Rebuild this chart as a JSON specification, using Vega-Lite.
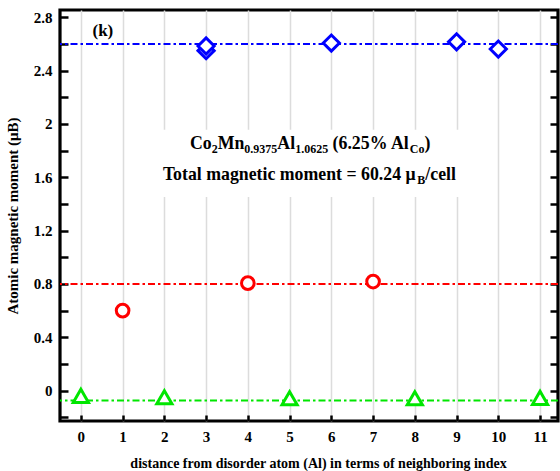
{
  "$schema": "https://vega.github.io/schema/vega-lite/v6.json",
  "width": 498,
  "height": 411,
  "autosize": {"type": "none"},
  "padding": {"left": 60, "top": 10, "right": 2, "bottom": 50},
  "background": "white",
  "config": {
    "view": {"stroke": "black", "strokeWidth": 3.2},
    "font": "Liberation Serif",
    "axis": {
      "labelFont": "Liberation Serif",
      "labelFontWeight": "bold",
      "labelColor": "black",
      "titleFont": "Liberation Serif",
      "titleFontWeight": "bold",
      "titleColor": "black",
      "tickColor": "black",
      "domain": false,
      "labelFlush": false,
      "labelOverlap": false
    }
  },
  "datasets": {
    "moments": [
      {"atom": "Al", "index": 0, "moment": -0.04},
      {"atom": "Co", "index": 1, "moment": 0.6},
      {"atom": "Al", "index": 2, "moment": -0.05},
      {"atom": "Mn", "index": 3, "moment": 2.55},
      {"atom": "Mn", "index": 3, "moment": 2.585},
      {"atom": "Co", "index": 4, "moment": 0.806},
      {"atom": "Al", "index": 5, "moment": -0.057},
      {"atom": "Mn", "index": 6, "moment": 2.607},
      {"atom": "Co", "index": 7, "moment": 0.818},
      {"atom": "Al", "index": 8, "moment": -0.057},
      {"atom": "Mn", "index": 9, "moment": 2.616},
      {"atom": "Mn", "index": 10, "moment": 2.562},
      {"atom": "Al", "index": 11, "moment": -0.055}
    ],
    "averages": [
      {"atom": "Mn", "moment": 2.6},
      {"atom": "Co", "moment": 0.8},
      {"atom": "Al", "moment": -0.075}
    ]
  },
  "layer": [
    {
      "layer": [
        {
          "data": {"values": [{}]},
          "mark": {"type": "rect", "fill": "white", "stroke": null},
          "encoding": {
            "x": {"datum": 1.75, "type": "quantitative",
              "scale": {"domain": [-0.5, 11.43], "nice": false, "zero": false},
              "axis": {
                "orient": "bottom",
                "values": [0, 1, 2, 3, 4, 5, 6, 7, 8, 9, 10, 11],
                "tickCount": 20,
                "format": "d",
                "tickSize": -6,
                "tickWidth": 2.5,
                "labelPadding": 14,
                "labelFontSize": 15,
                "grid": true,
                "gridColor": "#dcdcdc",
                "gridWidth": 1.5,
                "title": "distance from disorder atom (Al) in terms of neighboring index",
                "titleFontSize": 14,
                "titleX": 258,
                "titleY": 46,
                "titleAlign": "center",
                "titleBaseline": "alphabetic"
              }
            },
            "x2": {"datum": 9.35},
            "y": {"datum": 1.453, "type": "quantitative",
              "scale": {"domain": [-0.228, 2.855], "nice": false, "zero": false},
              "axis": {
                "orient": "left",
                "values": [-0.2, 0, 0.2, 0.4, 0.6, 0.8, 1, 1.2, 1.4, 1.6, 1.8, 2, 2.2, 2.4, 2.6, 2.8],
                "tickCount": 20,
                "format": ".1~f",
                "labelExpr": "abs(round(datum.value*10)) % 4 == 0 ? datum.label : ''",
                "tickSize": -8,
                "tickWidth": 2.5,
                "labelPadding": 16,
                "labelFontSize": 15,
                "grid": false,
                "title": "Atomic magnetic moment (μB)",
                "titleFontSize": 15,
                "titleAngle": 270,
                "titleX": -42.7,
                "titleY": 205.5,
                "titleAlign": "center",
                "titleBaseline": "alphabetic"
              }
            },
            "y2": {"datum": 1.956}
          }
        },
        {
          "data": {"name": "averages"},
          "mark": {"type": "rule", "strokeWidth": 2, "strokeDash": [7, 3, 2.5, 3]},
          "encoding": {
            "y": {"field": "moment", "type": "quantitative"},
            "color": {"field": "atom", "type": "nominal",
              "scale": {"domain": ["Mn", "Co", "Al"], "range": ["#0000ff", "#ff0000", "#00e600"]},
              "legend": null}
          }
        },
        {
          "data": {"name": "moments"},
          "transform": [{"filter": "datum.atom === 'Mn'"}],
          "mark": {"type": "point", "shape": "diamond", "size": 260, "filled": false, "fill": "white", "fillOpacity": 1, "opacity": 1, "stroke": "#0000ff", "strokeWidth": 3},
          "encoding": {
            "x": {"field": "index", "type": "quantitative"},
            "y": {"field": "moment", "type": "quantitative"}
          }
        },
        {
          "data": {"name": "moments"},
          "transform": [{"filter": "datum.atom === 'Co'"}],
          "mark": {"type": "point", "shape": "circle", "size": 160, "filled": false, "fill": "white", "fillOpacity": 1, "opacity": 1, "stroke": "#ff0000", "strokeWidth": 3},
          "encoding": {
            "x": {"field": "index", "type": "quantitative"},
            "y": {"field": "moment", "type": "quantitative"}
          }
        },
        {
          "data": {"name": "moments"},
          "transform": [{"filter": "datum.atom === 'Al'"}],
          "mark": {"type": "point", "shape": "triangle-up", "size": 230, "filled": false, "fill": "white", "fillOpacity": 1, "opacity": 1, "stroke": "#00e600", "strokeWidth": 3},
          "encoding": {
            "x": {"field": "index", "type": "quantitative"},
            "y": {"field": "moment", "type": "quantitative"}
          }
        },
        {
          "data": {"values": [{}]},
          "mark": {"type": "text", "text": "(k)", "align": "center", "baseline": "alphabetic", "fontSize": 17, "fontWeight": "bold", "font": "Liberation Serif", "color": "black"},
          "encoding": {"x": {"datum": 0.527}, "y": {"datum": 2.659}}
        },
        {
          "data": {"values": [{}]},
          "mark": {"type": "text", "text": "Co", "align": "left", "baseline": "alphabetic", "dx": 0, "fontSize": 17.8, "fontWeight": "bold", "font": "Liberation Serif", "color": "black"},
          "encoding": {"x": {"datum": 2.612}, "y": {"datum": 1.8105}}
        },
        {
          "data": {"values": [{}]},
          "mark": {"type": "text", "text": "2", "align": "left", "baseline": "alphabetic", "dx": 21.75, "dy": 3.5, "fontSize": 12, "fontWeight": "bold", "font": "Liberation Serif", "color": "black"},
          "encoding": {"x": {"datum": 2.612}, "y": {"datum": 1.8105}}
        },
        {
          "data": {"values": [{}]},
          "mark": {"type": "text", "text": "Mn", "align": "left", "baseline": "alphabetic", "dx": 27.75, "fontSize": 17.8, "fontWeight": "bold", "font": "Liberation Serif", "color": "black"},
          "encoding": {"x": {"datum": 2.612}, "y": {"datum": 1.8105}}
        },
        {
          "data": {"values": [{}]},
          "mark": {"type": "text", "text": "0.9375", "align": "left", "baseline": "alphabetic", "dx": 54.45, "dy": 3.5, "fontSize": 12, "fontWeight": "bold", "font": "Liberation Serif", "color": "black"},
          "encoding": {"x": {"datum": 2.612}, "y": {"datum": 1.8105}}
        },
        {
          "data": {"values": [{}]},
          "mark": {"type": "text", "text": "Al", "align": "left", "baseline": "alphabetic", "dx": 87.45, "fontSize": 17.8, "fontWeight": "bold", "font": "Liberation Serif", "color": "black"},
          "encoding": {"x": {"datum": 2.612}, "y": {"datum": 1.8105}}
        },
        {
          "data": {"values": [{}]},
          "mark": {"type": "text", "text": "1.0625", "align": "left", "baseline": "alphabetic", "dx": 105.25, "dy": 3.5, "fontSize": 12, "fontWeight": "bold", "font": "Liberation Serif", "color": "black"},
          "encoding": {"x": {"datum": 2.612}, "y": {"datum": 1.8105}}
        },
        {
          "data": {"values": [{}]},
          "mark": {"type": "text", "text": "(6.25% Al", "align": "left", "baseline": "alphabetic", "dx": 142.7, "fontSize": 17.8, "fontWeight": "bold", "font": "Liberation Serif", "color": "black"},
          "encoding": {"x": {"datum": 2.612}, "y": {"datum": 1.8105}}
        },
        {
          "data": {"values": [{}]},
          "mark": {"type": "text", "text": "Co", "align": "left", "baseline": "alphabetic", "dx": 219.83, "dy": 3.5, "fontSize": 12, "fontWeight": "bold", "font": "Liberation Serif", "color": "black"},
          "encoding": {"x": {"datum": 2.612}, "y": {"datum": 1.8105}}
        },
        {
          "data": {"values": [{}]},
          "mark": {"type": "text", "text": ")", "align": "left", "baseline": "alphabetic", "dx": 234.5, "fontSize": 17.8, "fontWeight": "bold", "font": "Liberation Serif", "color": "black"},
          "encoding": {"x": {"datum": 2.612}, "y": {"datum": 1.8105}}
        },
        {
          "data": {"values": [{}]},
          "mark": {"type": "text", "text": "Total magnetic moment = 60.24 μ", "align": "left", "baseline": "alphabetic", "dx": 0, "fontSize": 17.8, "fontWeight": "bold", "font": "Liberation Serif", "color": "black"},
          "encoding": {"x": {"datum": 1.965}, "y": {"datum": 1.5805}}
        },
        {
          "data": {"values": [{}]},
          "mark": {"type": "text", "text": "B", "align": "left", "baseline": "alphabetic", "dx": 254.4, "dy": 4, "fontSize": 12, "fontWeight": "bold", "font": "Liberation Serif", "color": "black"},
          "encoding": {"x": {"datum": 1.965}, "y": {"datum": 1.5805}}
        },
        {
          "data": {"values": [{}]},
          "mark": {"type": "text", "text": "/cell", "align": "left", "baseline": "alphabetic", "dx": 262.4, "fontSize": 17.8, "fontWeight": "bold", "font": "Liberation Serif", "color": "black"},
          "encoding": {"x": {"datum": 1.965}, "y": {"datum": 1.5805}}
        }
      ]
    },
    {
      "data": {"name": "averages"},
      "mark": {"type": "rule", "opacity": 0},
      "encoding": {
        "y": {"field": "moment", "type": "quantitative",
          "scale": {"domain": [-0.228, 2.855], "nice": false, "zero": false},
          "axis": {
            "orient": "right",
            "values": [-0.2, 0, 0.2, 0.4, 0.6, 0.8, 1, 1.2, 1.4, 1.6, 1.8, 2, 2.2, 2.4, 2.6, 2.8],
            "tickCount": 20,
            "labels": false,
            "title": null,
            "tickSize": -8,
            "tickWidth": 2.5,
            "grid": false
          }
        }
      }
    }
  ],
  "resolve": {"axis": {"y": "independent"}}
}
